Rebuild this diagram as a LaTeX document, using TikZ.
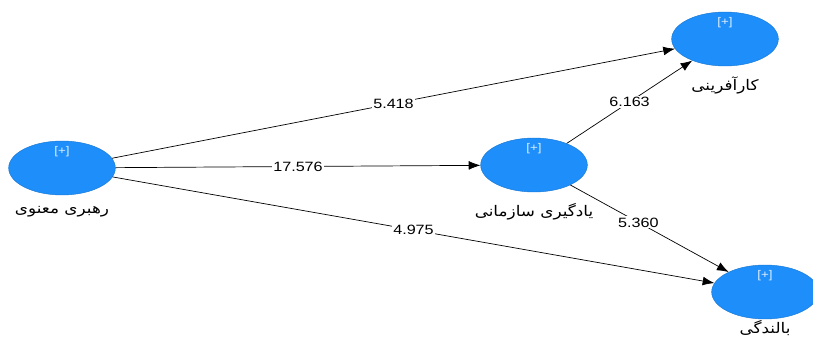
\documentclass[tikz,border=0pt]{standalone}
\usepackage{fontspec}
\setmainfont[FakeStretch=1.2]{Liberation Sans}
\newfontfamily\fa[Script=Arabic,FakeStretch=1.15]{DejaVu Sans}
\TeXXeTstate=1
\usetikzlibrary{arrows.meta,shapes.geometric,positioning}
\definecolor{lvblue}{RGB}{30,142,250}
\newcommand{\fatext}[1]{{\fa\beginR #1\endR}}
\newcommand{\plus}[1]{\node[font=\fontsize{9.5}{10}\selectfont,text=white!85!lvblue,anchor=north] at ([yshift=-1.5pt]#1.north) {[+]};}

\begin{document}
\begin{tikzpicture}[x=0.03cm,y=-0.03cm,
    lv/.style={ellipse,fill=lvblue,draw=lvblue!85!black,minimum width=3.2cm,minimum height=1.62cm,inner sep=0pt},
    lvname/.style={font=\fontsize{12.5}{14}\selectfont},
    path/.style={-{Latex[length=10pt,width=7.5pt]},line width=0.6pt},
    coef/.style={fill=white,inner sep=1pt,font=\fontsize{11.5}{13}\selectfont}]
  \useasboundingbox (0,0) rectangle (813,340);
  % latent variables
  \node[lv] (rm)  at (62,168)  {};
  \node[lv] (ys)  at (534,165) {};
  \node[lv] (kar) at (725,39)  {};
  \node[lv] (bal) at (765,292) {};
  \plus{rm} \plus{ys} \plus{kar} \plus{bal}
  \node[lvname,below=0.2cm of rm]  (rmname)  {\fatext{رهبری معنوی}};
  \node[lvname,below=0.2cm of ys]  (ysname)  {\fatext{یادگیری سازمانی}};
  \node[lvname,below=0.2cm of kar] (karname) {\fatext{کارآفرینی}};
  \node[lvname,below=0pt of bal,inner sep=1pt] (balname) {\fatext{بالندگی}};
  % paths
  \draw[path] (rm) -- node[coef,pos=0.5] {5.418} (kar);
  \draw[path] (rm) -- node[coef,pos=0.5] {17.576} (ys);
  \draw[path] (rm) -- node[coef,pos=0.5] {4.975} (bal);
  \draw[path] (ys) -- node[coef,pos=0.5] {6.163} (kar);
  \draw[path] (ys) -- node[coef,pos=0.43] {5.360} (bal);
\end{tikzpicture}
\end{document}
